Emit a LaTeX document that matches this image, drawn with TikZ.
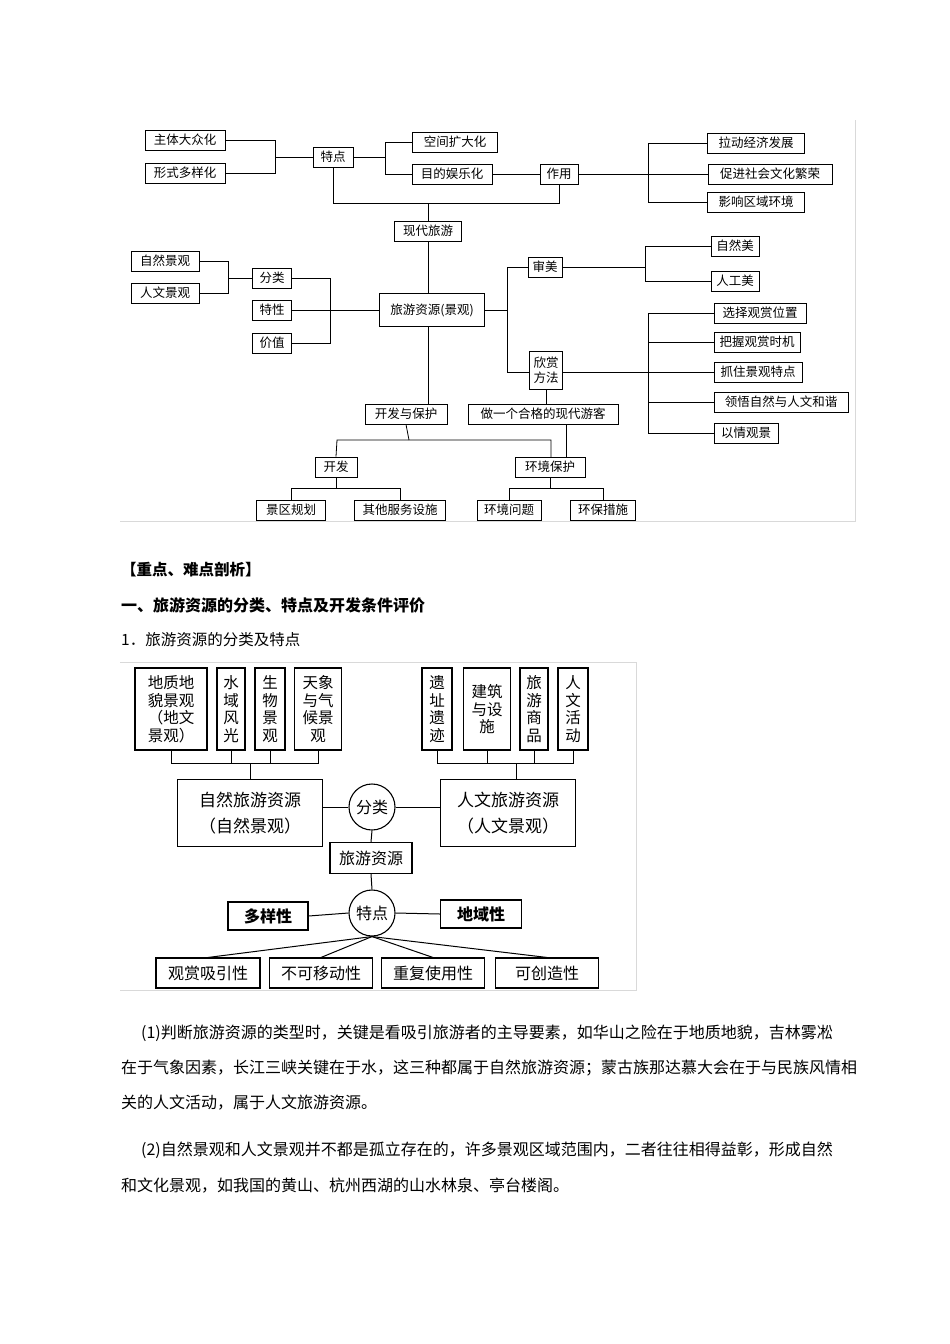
\documentclass[tikz,border=0pt]{standalone}
\usepackage{fontspec}
\newfontfamily\cjk{Noto Sans CJK SC}
\begin{document}
\begin{tikzpicture}[x=1pt,y=-1pt,
  bx/.style={draw,line width=0.9pt,inner sep=0pt,font=\cjk\fontsize{12.5}{14.5}\selectfont,minimum height=20pt},
  bb/.style={draw,line width=1.1pt,inner sep=0pt,font=\cjk\fontsize{15}{17}\selectfont},
  vb/.style={bb,align=center,font=\cjk\fontsize{15.5}{17.5}\selectfont},
  ln/.style={line width=0.8pt},
  lb/.style={line width=1pt},
  tx/.style={anchor=west,inner sep=0pt,font=\cjk\fontsize{16}{18}\selectfont}]
\useasboundingbox (0,0) rectangle (950,1344);
\fill[white] (0,0) rectangle (950,1344);
% frames
\draw[gray!30] (120,521) -- (855,521) -- (855,120);
\draw[gray!30] (120,662) -- (636,662) -- (636,990) -- (120,990);
% ===== top diagram
\node[bx,minimum width=80pt] (a1) at (185,140) {主体大众化};
\node[bx,minimum width=80pt] (a2) at (185,173) {形式多样化};
\node[bx,minimum width=40pt] (td) at (333,157) {特点};
\node[bx,minimum width=85pt] (k1) at (455,142) {空间扩大化};
\node[bx,minimum width=80pt] (k2) at (452,174) {目的娱乐化};
\node[bx,minimum width=38pt] (zy) at (559,174) {作用};
\node[bx,minimum width=97pt] (z1) at (756,143) {拉动经济发展};
\node[bx,minimum width=124pt] (z2) at (770,174) {促进社会文化繁荣};
\node[bx,minimum width=97pt] (z3) at (756,202) {影响区域环境};
\node[bx,minimum width=67pt] (xd) at (428,231) {现代旅游};
\node[bx,minimum width=105pt,minimum height=33pt] (ly) at (432,310) {旅游资源(景观)};
\node[bx,minimum width=68pt] (r1) at (165,261) {自然景观};
\node[bx,minimum width=68pt] (r2) at (165,293) {人文景观};
\node[bx,minimum width=39pt] (fl) at (272,278) {分类};
\node[bx,minimum width=39pt] (tx) at (272,310) {特性};
\node[bx,minimum width=39pt] (jz) at (272,343) {价值};
\node[bx,minimum width=34pt] (sm) at (545,267) {审美};
\node[bx,minimum width=48pt] (m1) at (735,246) {自然美};
\node[bx,minimum width=48pt] (m2) at (735,281) {人工美};
\node[bx,minimum width=33pt,minimum height=38pt,align=center] (xs) at (546,370) {欣赏\\方法};
\node[bx,minimum width=92pt] (f1) at (760,313) {选择观赏位置};
\node[bx,minimum width=86pt] (f2) at (757,342) {把握观赏时机};
\node[bx,minimum width=88pt] (f3) at (758,372) {抓住景观特点};
\node[bx,minimum width=134pt] (f4) at (781,402) {领悟自然与人文和谐};
\node[bx,minimum width=64pt] (f5) at (746,433) {以情观景};
\node[bx,minimum width=82pt] (kb) at (406,414) {开发与保护};
\node[bx,minimum width=150pt] (zg) at (543,414) {做一个合格的现代游客};
\node[bx,minimum width=42pt] (kf) at (336,467) {开发};
\node[bx,minimum width=70pt] (hb) at (550,467) {环境保护};
\node[bx,minimum width=69pt] (g1) at (291,510) {景区规划};
\node[bx,minimum width=91pt] (g2) at (400,510) {其他服务设施};
\node[bx,minimum width=64pt] (h1) at (509,510) {环境问题};
\node[bx,minimum width=65pt] (h2) at (603,510) {环保措施};
% connectors
\draw[ln] (a1.east) -- (275,140) -- (275,173) -- (a2.east);
\draw[ln] (275,157) -- (td.west);
\draw[ln] (k1.west) -- (385,142) -- (385,174) -- (k2.west);
\draw[ln] (td.east) -- (385,157);
\draw[ln] (k2.east) -- (zy.west);
\draw[ln] (z1.west) -- (648,143) -- (648,202) -- (z3.west);
\draw[ln] (zy.east) -- (z2.west);
\draw[ln] (td.south) -- (333,203) -- (559,203) -- (zy.south);
\draw[ln] (428,203) -- (xd.north);
\draw[ln] (xd.south) -- (xd.south |- ly.north);
\draw[ln] (r1.east) -- (228,261) -- (228,293) -- (r2.east);
\draw[ln] (228,278) -- (fl.west);
\draw[ln] (fl.east) -- (330,278) -- (330,343) -- (jz.east);
\draw[ln] (tx.east) -- (ly.west);
\draw[ln] (ly.east) -- (507,310);
\draw[ln] (sm.west) -- (507,267) -- (507,372) -- (xs.west |- 0,372);
\draw[ln] (m1.west) -- (645,246) -- (645,281) -- (m2.west);
\draw[ln] (sm.east) -- (645,267);
\draw[ln] (f1.west) -- (648,313) -- (648,433) -- (f5.west);
\draw[ln] (648,342) -- (f2.west);
\draw[ln] (xs.east |- 0,372) -- (f3.west);
\draw[ln] (648,402) -- (f4.west);
\draw[ln] (428,326.5) -- (428,404);
\draw[ln] (xs.south) -- (xs.south |- zg.north);
\draw[ln] (kb.south) -- (409,440);
\draw[ln] (kf.north) -- (337,440) -- (551,440) -- (551,457);
\draw[ln] (566,424) -- (566,457);
\draw[ln] (kf.south) -- (336,488);
\draw[ln] (g1.north) -- (291,488) -- (400,488) -- (g2.north);
\draw[ln] (hb.south) -- (550,488);
\draw[ln] (h1.north) -- (509,488) -- (603,488) -- (h2.north);
% ===== texts
\node[tx,font=\cjk\bfseries\fontsize{15.5}{17}\selectfont] (t1) at (121,570) {【重点、难点剖析】};
\node[tx,font=\cjk\bfseries\fontsize{16}{18}\selectfont] (t2) at (121,605) {一、旅游资源的分类、特点及开发条件评价};
\node[tx,font=\cjk\fontsize{15.5}{17}\selectfont] (t3) at (121,640) {1．旅游资源的分类及特点};
% ===== second diagram
\node[vb,minimum width=72pt,minimum height=82pt] (n1) at (171,709) {地质地\\貌景观\\（地文\\景观）};
\node[vb,minimum width=28pt,minimum height=82pt] (n2) at (231,709) {水\\域\\风\\光};
\node[vb,minimum width=30pt,minimum height=82pt] (n3) at (270,709) {生\\物\\景\\观};
\node[vb,minimum width=47pt,minimum height=82pt] (n4) at (318,709) {天象\\与气\\候景\\观};
\node[vb,minimum width=30pt,minimum height=82pt] (c1) at (437,709) {遗\\址\\遗\\迹};
\node[vb,minimum width=47pt,minimum height=82pt] (c2) at (487,709) {建筑\\与设\\施\\[-17pt]};
\node[vb,minimum width=28pt,minimum height=82pt] (c3) at (534,709) {旅\\游\\商\\品};
\node[vb,minimum width=30pt,minimum height=82pt] (c4) at (573,709) {人\\文\\活\\动};
\node[vb,minimum width=145pt,minimum height=67pt,font=\cjk\fontsize{17}{26}\selectfont] (zr) at (250,813) {自然旅游资源\\（自然景观）};
\node[vb,minimum width=135pt,minimum height=67pt,font=\cjk\fontsize{17}{26}\selectfont] (rw) at (508,813) {人文旅游资源\\（人文景观）};
\node[circle,draw,line width=1.1pt,minimum size=46pt,inner sep=0pt,font=\cjk\fontsize{16}{18}\selectfont] (flc) at (372,807) {分类};
\node[bb,minimum width=82pt,minimum height=31pt,font=\cjk\fontsize{16}{18}\selectfont] (lyz) at (371,858) {旅游资源};
\node[circle,draw,line width=1.1pt,minimum size=46pt,inner sep=0pt,font=\cjk\fontsize{16}{18}\selectfont] (tdc) at (372,913) {特点};
\node[bb,minimum width=80pt,minimum height=28pt,font=\cjk\bfseries\fontsize{16}{18}\selectfont] (d1) at (268,916) {多样性};
\node[bb,minimum width=81pt,minimum height=28pt,font=\cjk\bfseries\fontsize{16}{18}\selectfont] (d2) at (481,914) {地域性};
\node[bb,minimum width=104pt,minimum height=30pt,font=\cjk\fontsize{16}{18}\selectfont] (e1) at (208,973) {观赏吸引性};
\node[bb,minimum width=103pt,minimum height=30pt,font=\cjk\fontsize{16}{18}\selectfont] (e2) at (321,973) {不可移动性};
\node[bb,minimum width=103pt,minimum height=30pt,font=\cjk\fontsize{16}{18}\selectfont] (e3) at (433,973) {重复使用性};
\node[bb,minimum width=103pt,minimum height=30pt,font=\cjk\fontsize{16}{18}\selectfont] (e4) at (547,973) {可创造性};
\draw[lb] (n1.south) -- (171,763) -- (318,763) -- (n4.south);
\draw[lb] (n2.south) -- (231,763);
\draw[lb] (n3.south) -- (270,763);
\draw[lb] (250,763) -- (zr.north);
\draw[lb] (c1.south) -- (437,763) -- (573,763) -- (c4.south);
\draw[lb] (c2.south) -- (487,763);
\draw[lb] (c3.south) -- (534,763);
\draw[lb] (516,763) -- (516,779.5);
\draw[lb] (zr.east |- flc.west) -- (flc.west);
\draw[lb] (flc.east) -- (rw.west |- flc.east);
\draw[lb] (flc.south) -- (lyz.north);
\draw[lb] (lyz.south) -- (tdc.north);
\draw[lb] (d1.east) -- (tdc.west);
\draw[lb] (tdc.east) -- (d2.west);
\draw[lb] (tdc.south) -- (e1.north);
\draw[lb] (tdc.south) -- (e2.north);
\draw[lb] (tdc.south) -- (e3.north);
\draw[lb] (tdc.south) -- (e4.north);
% paragraphs
\node[tx] (p1) at (141,1033) {(1)判断旅游资源的类型时，关键是看吸引旅游者的主导要素，如华山之险在于地质地貌，吉林雾凇};
\node[tx] (p2) at (121,1068) {在于气象因素，长江三峡关键在于水，这三种都属于自然旅游资源；蒙古族那达慕大会在于与民族风情相};
\node[tx] (p3) at (121,1103) {关的人文活动，属于人文旅游资源。};
\node[tx] (p4) at (141,1150) {(2)自然景观和人文景观并不都是孤立存在的，许多景观区域范围内，二者往往相得益彰，形成自然};
\node[tx] (p5) at (121,1186) {和文化景观，如我国的黄山、杭州西湖的山水林泉、亭台楼阁。};
\end{tikzpicture}
\end{document}
